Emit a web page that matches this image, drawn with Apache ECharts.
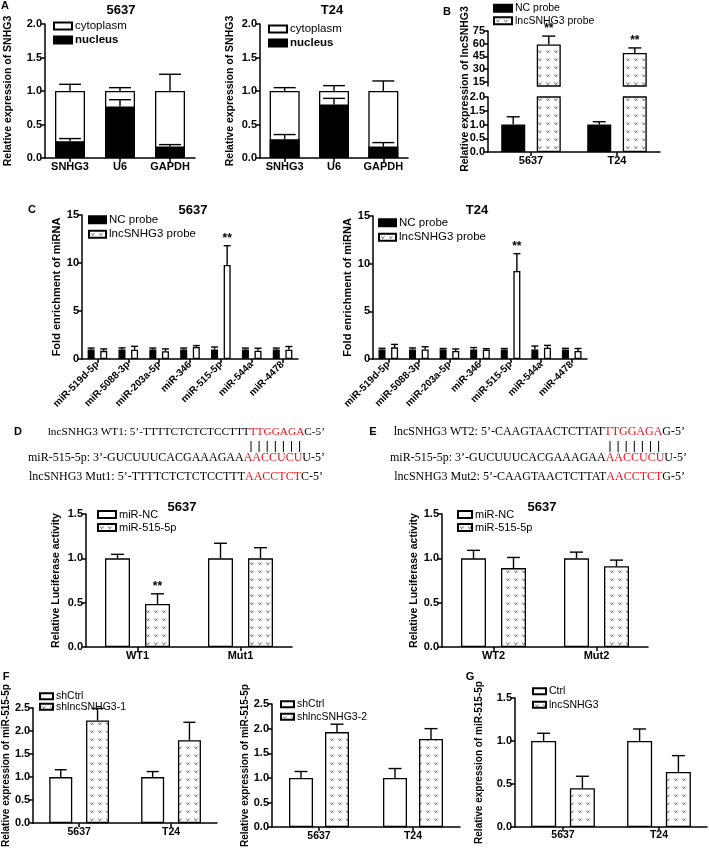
<!DOCTYPE html>
<html><head><meta charset="utf-8">
<script src="https://cdn.jsdelivr.net/npm/echarts@6/dist/echarts.min.js"></script>
<style>html,body{margin:0;padding:0;background:#fff}#c{width:709px;height:849px}</style>
</head><body><div id="c"></div><script>
// ---------- DATA ----------
const catsA = ['SNHG3', 'U6', 'GAPDH'];
const a5637Nucleus = [0.25, 0.77, 0.17];
const a5637NucleusTop = [0.29, 0.87, 0.20];
const a5637Total = [1.0, 1.0, 1.0];
const a5637TotalTop = [1.10, 1.05, 1.25];
const aT24Nucleus = [0.28, 0.80, 0.17];
const aT24NucleusTop = [0.35, 0.89, 0.23];
const aT24Total = [1.0, 1.0, 1.0];
const aT24TotalTop = [1.05, 1.08, 1.15];

const catsCell = ['5637', 'T24'];
const bNC = [1.0, 1.0];
const bNCTop = [1.28, 1.10];
const bProbe = [59, 49];
const bProbeTop = [69, 55];
const bProbeStars = ['**', '**'];
const bUpperTicks = [15, 30, 45, 60, 75];

const catsC = ['miR-519d-5p', 'miR-5088-3p', 'miR-203a-5p', 'miR-346', 'miR-515-5p', 'miR-544a', 'miR-4478'];
const c5637NC = [1.0, 1.0, 1.0, 1.0, 1.0, 1.0, 1.0];
const c5637NCTop = [1.14, 1.16, 1.14, 1.14, 1.25, 1.14, 1.14];
const c5637Probe = [0.85, 0.97, 0.8, 1.25, 9.8, 0.87, 0.97];
const c5637ProbeTop = [1.05, 1.32, 1.05, 1.4, 11.8, 1.12, 1.3];
const c5637Stars = ['', '', '', '', '**', '', ''];
const cT24NC = [1.0, 1.0, 1.0, 1.0, 1.0, 1.0, 1.0];
const cT24NCTop = [1.12, 1.16, 1.1, 1.2, 1.1, 1.36, 1.12];
const cT24Probe = [1.22, 1.0, 0.84, 0.97, 9.23, 1.18, 0.84];
const cT24ProbeTop = [1.53, 1.29, 1.05, 1.08, 11.05, 1.43, 1.1];
const cT24Stars = ['', '', '', '', '**', '', ''];

const catsD = ['WT1', 'Mut1'];
const dNC = [1.0, 1.0];
const dNCTop = [1.045, 1.17];
const d515 = [0.485, 1.0];
const d515Top = [0.6, 1.12];
const d515Stars = ['**', ''];
const catsE = ['WT2', 'Mut2'];
const eNC = [1.0, 1.0];
const eNCTop = [1.09, 1.07];
const e515 = [0.89, 0.91];
const e515Top = [1.01, 0.98];

const fShCtrl1 = [1.0, 1.0];
const fShCtrl1Top = [1.16, 1.12];
const fSh1 = [2.23, 1.8];
const fSh1Top = [2.49, 2.19];
const fShCtrl2 = [1.0, 1.0];
const fShCtrl2Top = [1.13, 1.19];
const fSh2 = [1.93, 1.79];
const fSh2Top = [2.09, 2.0];

const gCtrl = [1.0, 1.0];
const gCtrlTop = [1.09, 1.14];
const gLnc = [0.45, 0.64];
const gLncTop = [0.59, 0.83];

// ---------- STYLE HELPERS ----------
const FONT = '"Liberation Sans", Arial, sans-serif';
const SERIF = '"Liberation Serif", "Times New Roman", serif';

function makePattern() {
  const c = document.createElement('canvas');
  c.width = 8; c.height = 8;
  const ctx = c.getContext('2d');
  ctx.fillStyle = '#fff'; ctx.fillRect(0, 0, 8, 8);
  ctx.strokeStyle = '#555'; ctx.lineWidth = 0.9;
  ctx.beginPath();
  ctx.moveTo(2.2, 2.5); ctx.lineTo(3.8, 4.8); ctx.lineTo(5.4, 2.5);
  ctx.stroke();
  return c;
}
const pattern = { image: makePattern(), repeat: 'repeat' };

const whiteStyle = { color: '#fff', borderColor: '#000', borderWidth: 1.3 };
const blackStyle = { color: '#000', borderColor: '#000', borderWidth: 1.3 };
const patStyle = { color: pattern, borderColor: '#000', borderWidth: 1.3 };

const axLine = { show: true, lineStyle: { color: '#000', width: 1.5 } };
const axTick = { show: true, length: 4, lineStyle: { color: '#000', width: 1.5 } };
const lbl = (size) => ({ color: '#000', fontFamily: FONT, fontWeight: 'bold', fontSize: size || 11, margin: 3 });

function yAx(gi, min, max, interval, name, nameGap, nameSize, extra) {
  return Object.assign({
    type: 'value', gridIndex: gi, min: min, max: max, interval: interval,
    axisLine: axLine, axisTick: axTick, splitLine: { show: false },
    axisLabel: Object.assign(lbl(11), { formatter: v => (interval < 1 ? v.toFixed(1) : String(v)) }),
    name: name, nameLocation: 'middle', nameGap: nameGap, nameRotate: 90,
    nameTextStyle: { color: '#000', fontFamily: FONT, fontWeight: 'bold', fontSize: nameSize || 10 }
  }, extra || {});
}
function xAx(gi, cats, extra) {
  return Object.assign({
    type: 'category', gridIndex: gi, data: cats,
    axisLine: axLine, axisTick: Object.assign({}, axTick, { alignWithLabel: true }),
    axisLabel: Object.assign(lbl(11), { interval: 0 })
  }, extra || {});
}
function bar(gi, name, data, style, width, gap, extra) {
  return Object.assign({
    type: 'bar', name: name, xAxisIndex: gi, yAxisIndex: gi, data: data,
    itemStyle: style, barWidth: width, barGap: gap, animation: false
  }, extra || {});
}
function err(gi, vals, tops, offset, capW, stars) {
  return {
    type: 'custom', xAxisIndex: gi, yAxisIndex: gi, z: 10, clip: false, animation: false,
    silent: true,
    data: vals.map((v, i) => [i, v, tops[i]]),
    renderItem: function (params, api) {
      const i = api.value(0), v = api.value(1), t = api.value(2);
      const p0 = api.coord([i, v]), p1 = api.coord([i, t]);
      const x = p0[0] + offset;
      const ch = [
        { type: 'line', shape: { x1: x, y1: p0[1], x2: x, y2: p1[1] }, style: { stroke: '#000', lineWidth: 1.4 } },
        { type: 'line', shape: { x1: x - capW / 2, y1: p1[1], x2: x + capW / 2, y2: p1[1] }, style: { stroke: '#000', lineWidth: 1.4 } }
      ];
      const s = stars && stars[params.dataIndex];
      if (s) ch.push({ type: 'text', style: { text: s, x: x, y: p1[1] - 1, align: 'center', verticalAlign: 'bottom', font: 'bold 12px ' + FONT, fill: '#000' } });
      return { type: 'group', children: ch };
    }
  };
}
function leg(names, left, top, iw, ih, fs, gap, extra) {
  return Object.assign({
    data: names, left: left, top: top, orient: 'vertical', icon: 'rect',
    itemWidth: iw, itemHeight: ih, itemGap: gap, padding: 0, selectedMode: false,
    textStyle: { color: '#000', fontFamily: FONT, fontSize: fs, lineHeight: fs + 2, padding: [0, 0, 0, -2] }
  }, extra || {});
}
function txt(text, x, y, size, opts, extra) {
  return Object.assign({
    type: 'text', x: x, y: y,
    style: Object.assign({ text: text, font: 'bold ' + size + 'px ' + FONT, fill: '#000', align: 'center', verticalAlign: 'middle' }, (opts || {}))
  }, extra || {});
}

// ---------- GRIDS ----------
const grids = [
  { left: 45, top: 24, width: 150, height: 134 },   // 0 A 5637
  { left: 260, top: 24, width: 148, height: 134 },  // 1 A T24
  { left: 488, top: 31, width: 172, height: 55 },   // 2 B upper
  { left: 488, top: 97, width: 172, height: 55 },   // 3 B lower
  { left: 82, top: 215, width: 216, height: 144 },  // 4 C 5637
  { left: 373, top: 216, width: 214, height: 143 }, // 5 C T24
  { left: 86, top: 514, width: 206, height: 133 },  // 6 D
  { left: 442, top: 514, width: 206, height: 133 }, // 7 E
  { left: 33, top: 708, width: 184, height: 121 },  // 8 F left
  { left: 272, top: 704, width: 188, height: 125 }, // 9 F mid
  { left: 515, top: 698, width: 192, height: 129 }  // 10 G
];

const rot = Object.assign(lbl(10), { rotate: 45, interval: 0, margin: 4 });
const xAxes = [
  xAx(0, catsA), xAx(1, catsA),
  xAx(2, catsCell, { show: false }), xAx(3, catsCell),
  xAx(4, catsC, { axisLabel: rot }),
  xAx(5, catsC, { axisLabel: rot }),
  xAx(6, catsD), xAx(7, catsE),
  xAx(8, catsCell, { axisLabel: Object.assign(lbl(10.5), { interval: 0 }) }),
  xAx(9, catsCell, { axisLabel: Object.assign(lbl(10.5), { interval: 0 }) }),
  xAx(10, catsCell, { axisLabel: Object.assign(lbl(10.5), { interval: 0 }) })
];
const yAxes = [
  yAx(0, 0, 2, 0.5, 'Relative expression of SNHG3', 31, 10.5),
  yAx(1, 0, 2, 0.5, 'Relative expression of SNHG3', 24, 10.5),
  yAx(2, 10, 75, 15, '', 0, 10, {
    axisLabel: Object.assign(lbl(11), { customValues: bUpperTicks }),
    axisTick: Object.assign({}, axTick, { customValues: bUpperTicks })
  }),
  yAx(3, 0, 2, 0.5, '', 0),
  yAx(4, 0, 15, 5, 'Fold enrichment of miRNA', 20, 11),
  yAx(5, 0, 15, 5, 'Fold enrichment of miRNA', 20, 11),
  yAx(6, 0, 1.5, 0.5, 'Relative Luciferase activity', 24, 10.5),
  yAx(7, 0, 1.5, 0.5, 'Relative Luciferase activity', 21, 10.5),
  yAx(8, 0, 2.5, 0.5, 'Relative expression of miR-515-5p', 18, 10),
  yAx(9, 0, 2.5, 0.5, 'Relative expression of miR-515-5p', 22, 10),
  yAx(10, 0, 1.5, 0.5, 'Relative expression of miR-515-5p', 31, 10)
];

const series = [
  // A
  bar(0, 'cytoplasm', a5637Total, whiteStyle, 30, '-100%'),
  bar(0, 'nucleus', a5637Nucleus, blackStyle, 30, '-100%'),
  err(0, a5637Total, a5637TotalTop, 0, 22),
  err(0, a5637Nucleus, a5637NucleusTop, 0, 22),
  bar(1, 'cytoplasm', aT24Total, whiteStyle, 30, '-100%'),
  bar(1, 'nucleus', aT24Nucleus, blackStyle, 30, '-100%'),
  err(1, aT24Total, aT24TotalTop, 0, 22),
  err(1, aT24Nucleus, aT24NucleusTop, 0, 22),
  // B
  bar(2, 'NC probe', bNC, blackStyle, 24, '48%'),
  bar(2, 'lncSNHG3 probe', bProbe, patStyle, 24, '48%'),
  err(2, bProbe, bProbeTop, 17.8, 13, bProbeStars),
  bar(3, 'NC probe', bNC, blackStyle, 24, '48%'),
  bar(3, 'lncSNHG3 probe', bProbe, patStyle, 24, '48%'),
  err(3, bNC, bNCTop, -17.8, 13),
  // C
  bar(4, 'NC probe', c5637NC, blackStyle, 7, '80%'),
  bar(4, 'lncSNHG3 probe', c5637Probe, whiteStyle, 7, '80%'),
  err(4, c5637NC, c5637NCTop, -6.3, 7),
  err(4, c5637Probe, c5637ProbeTop, 6.3, 7, c5637Stars),
  bar(5, 'NC probe', cT24NC, blackStyle, 7, '80%'),
  bar(5, 'lncSNHG3 probe', cT24Probe, whiteStyle, 7, '80%'),
  err(5, cT24NC, cT24NCTop, -6.3, 7),
  err(5, cT24Probe, cT24ProbeTop, 6.3, 7, cT24Stars),
  // D
  bar(6, 'miR-NC', dNC, whiteStyle, 25, '60%'),
  bar(6, 'miR-515-5p', d515, patStyle, 25, '60%'),
  err(6, dNC, dNCTop, -20, 13),
  err(6, d515, d515Top, 20, 13, d515Stars),
  // E
  bar(7, 'miR-NC', eNC, whiteStyle, 25, '60%'),
  bar(7, 'miR-515-5p', e515, patStyle, 25, '60%'),
  err(7, eNC, eNCTop, -20, 13),
  err(7, e515, e515Top, 20, 13),
  // F
  bar(8, 'shCtrl', fShCtrl1, whiteStyle, 23, '60%'),
  bar(8, 'shlncSNHG3-1', fSh1, patStyle, 23, '60%'),
  err(8, fShCtrl1, fShCtrl1Top, -18.4, 12),
  err(8, fSh1, fSh1Top, 18.4, 12),
  bar(9, 'shCtrl', fShCtrl2, whiteStyle, 24, '50%'),
  bar(9, 'shlncSNHG3-2', fSh2, patStyle, 24, '50%'),
  err(9, fShCtrl2, fShCtrl2Top, -18, 13),
  err(9, fSh2, fSh2Top, 18, 13),
  // G
  bar(10, 'Ctrl', gCtrl, whiteStyle, 25, '55%'),
  bar(10, 'lncSNHG3', gLnc, patStyle, 25, '55%'),
  err(10, gCtrl, gCtrlTop, -19.4, 13),
  err(10, gLnc, gLncTop, 19.4, 13)
];

const boldRich = { color: '#000', fontFamily: FONT, fontSize: 11.5, lineHeight: 14, padding: [0, 0, 0, -2], rich: { b: { fontWeight: 'bold', fontSize: 11.5, fontFamily: FONT } } };
const legends = [
  leg(['cytoplasm', 'nucleus'], 53, 19, 18, 7, 11.5, 0, { formatter: n => n === 'nucleus' ? '{b|nucleus}' : n, textStyle: boldRich }),
  leg(['cytoplasm', 'nucleus'], 268, 22, 18, 7, 11.5, 0, { formatter: n => n === 'nucleus' ? '{b|nucleus}' : n, textStyle: boldRich }),
  leg(['NC probe', 'lncSNHG3 probe'], 493, 2, 18, 7, 10.5, 0),
  leg(['NC probe', 'lncSNHG3 probe'], 88, 213, 17, 7, 11.5, 1),
  leg(['NC probe', 'lncSNHG3 probe'], 378, 216, 17, 7, 11.5, 1),
  leg(['miR-NC', 'miR-515-5p'], 97, 508, 18, 7, 11, 0),
  leg(['miR-NC', 'miR-515-5p'], 457, 508, 14, 7, 11, 0),
  leg(['shCtrl', 'shlncSNHG3-1'], 39, 690, 13, 6, 10.5, -2),
  leg(['shCtrl', 'shlncSNHG3-2'], 280, 698, 13, 6, 10.5, 0),
  leg(['Ctrl', 'lncSNHG3'], 532, 685, 13, 6, 10.5, 1)
];

function seq(text, x, y, size) {
  return { type: 'text', x: x, y: y, style: { text: text, font: size + 'px ' + SERIF, fill: '#000', align: 'right', verticalAlign: 'middle', rich: { r: { fill: '#e8141b', font: size + 'px ' + SERIF } } } };
}
function pairs(x0, step, y1, y2) {
  const out = [];
  for (let k = 0; k < 7; k++) out.push({ type: 'line', shape: { x1: x0 + k * step, y1: y1, x2: x0 + k * step, y2: y2 }, style: { stroke: '#000', lineWidth: 1 } });
  return out;
}

const graphics = [
  txt('A', 5, 6, 11), txt('5637', 121, 10, 13), txt('T24', 332, 10, 13),
  txt('B', 447, 12, 11),
  txt('Relative expression of lncSNHG3', 465, 89, 10.5, null, { rotation: Math.PI / 2 }),
  txt('C', 32, 210, 11), txt('5637', 193, 210, 13), txt('T24', 477, 210, 13),
  txt('D', 18, 432, 11), txt('E', 373, 432, 11),
  seq('lncSNHG3 WT1: 5’-TTTTCTCTCTCCTTT{r|TTGGAGA}C-5’', 325, 432, 11.3),
  seq('miR-515-5p: 3’-GUCUUUCACGAAAGAA{r|AACCUCU}U-5’', 325, 458, 12),
  seq('lncSNHG3 Mut1: 5’-TTTTCTCTCTCCTTT{r|AACCTCT}C-5’', 323, 477, 12),
  seq('lncSNHG3 WT2: 5’-CAAGTAACTCTTAT{r|TTGGAGA}G-5’', 685, 432, 12),
  seq('miR-515-5p: 3’-GUCUUUCACGAAAGAA{r|AACCUCU}U-5’', 687, 458, 12),
  seq('lncSNHG3 Mut2: 5’-CAAGTAACTCTTAT{r|AACCTCT}G-5’', 685, 477, 12),
  txt('5637', 182, 507, 13), txt('5637', 542, 507, 13),
  txt('F', 6, 677, 11), txt('G', 470, 677, 11)
].concat(pairs(251, 8.1, 441, 452)).concat(pairs(610, 8.1, 441, 452));

const chart = echarts.init(document.getElementById('c'), null, { renderer: 'canvas' });
chart.setOption({
  animation: false,
  backgroundColor: '#fff',
  grid: grids, xAxis: xAxes, yAxis: yAxes, series: series, legend: legends,
  graphic: graphics
});
</script></body></html>
